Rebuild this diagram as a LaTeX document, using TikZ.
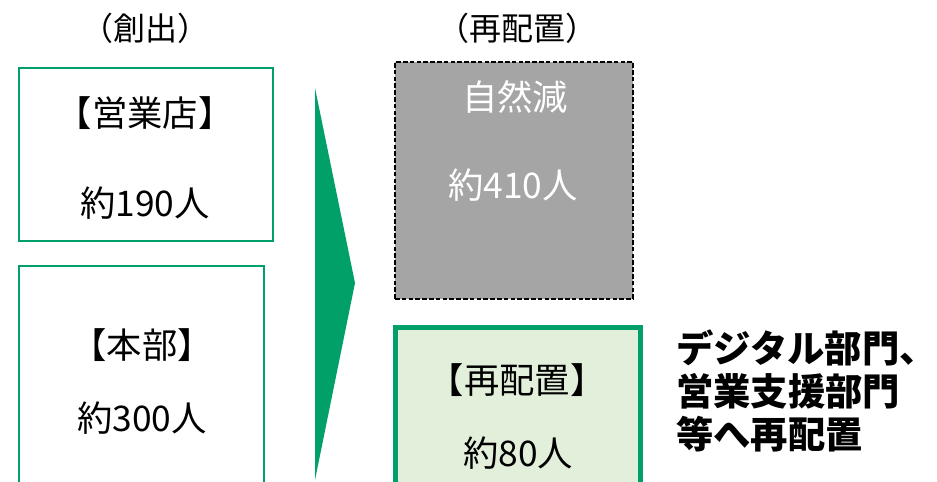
\documentclass[tikz,border=0pt]{standalone}
\usepackage{fontspec}
\usepackage{tikz}
\usetikzlibrary{positioning}
\newfontfamily\jpfont{Noto Sans CJK JP}
\definecolor{midgreen}{RGB}{0,160,104}
\definecolor{palegreen}{RGB}{226,239,218}
\definecolor{midgray}{RGB}{165,165,165}

\begin{document}
\begin{tikzpicture}[x=0.75pt, y=-0.75pt,
			boxStyle/.style={draw=midgreen, line width=1.6pt, fill=white, inner sep=0pt},
			grayBox/.style={draw=black, line width=1.3pt, dash pattern=on 3.5pt off 1.6pt, fill=midgray, inner sep=0pt},
			moveBox/.style={draw=midgreen, line width=3.8pt, fill=palegreen, inner sep=0pt},
			titleStyle/.style={font=\jpfont\fontsize{24}{28}\selectfont, inner sep=0pt},
			labelStyle/.style={font=\jpfont\fontsize{26.5}{30}\selectfont, inner sep=0pt},
			noteStyle/.style={font=\jpfont\bfseries\fontsize{28}{32.5}\selectfont, align=left, inner sep=0pt, anchor=west}]
			
			\clip (0,0) rectangle (937,481);
			
			% left column
			\node[titleStyle] (create) at (145,28) {（創出）};
			\node[boxStyle, minimum width=190.5pt, minimum height=129.75pt] (shop) at (146,154.5) {};
			\node[boxStyle, minimum width=183.75pt, minimum height=171.75pt] (hq) at (141.5,380.5) {};
			
			\node[labelStyle] (shopName) at (145,113) {【営業店】};
			\node[labelStyle] (shopNum) at (145,203) {約190人};
			\node[labelStyle] (hqName) at (142,345) {【本部】};
			\node[labelStyle] (hqNum) at (142,418) {約300人};
			
			% arrow
			\fill[midgreen] (315,88) -- (355,283) -- (315,480) -- cycle;
			
			% right column
			\node[titleStyle] (move) at (517,28) {（再配置）};
			\node[grayBox, minimum width=178.5pt, minimum height=177.75pt] (natural) at (514,180.5) {};
			\node[moveBox, minimum width=183.75pt, minimum height=127pt] (moved) at (518,412) {};
			
			\node[labelStyle, text=white] (naturalName) at (515,97) {自然減};
			\node[labelStyle, text=white] (naturalNum) at (513,185) {約410人};
			\node[labelStyle] (movedName) at (517,380) {【再配置】};
			\node[labelStyle] (movedNum) at (518,453) {約80人};
			
			\node[noteStyle] (note) at (676,391) {デジタル部門、\\営業支援部門\\等へ再配置};
		\end{tikzpicture}
\end{document}
